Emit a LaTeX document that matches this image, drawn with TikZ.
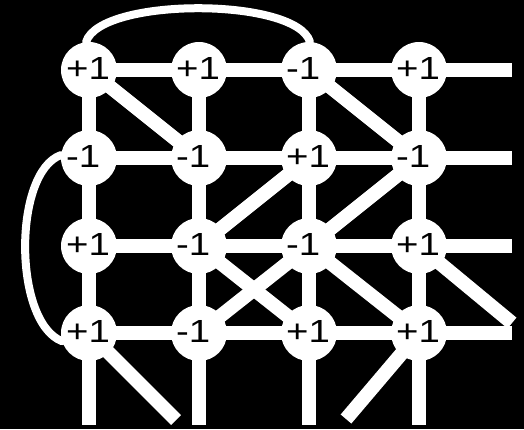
\documentclass[tikz,border=0pt]{standalone}
\usepackage{fontspec}
\setmainfont{Liberation Sans}[FakeStretch=1.2]
\pgfdeclarelayer{back}
\pgfdeclarelayer{edges}
\pgfsetlayers{back,edges,main}
\begin{document}
\begin{tikzpicture}[x=1pt,y=-1pt,
  vtx/.style={circle,fill=white,draw=none,minimum size=56pt,inner sep=0pt},
  lbl/.style={anchor=base west,inner sep=0pt,text=black,font=\fontsize{32}{32}\selectfont},
  edge/.style={draw=white,line width=14pt},
  arcedge/.style={draw=white,line width=8pt,line cap=round}]
\useasboundingbox (0,0) rectangle (524,429);
\begin{pgfonlayer}{back}
\fill[black] (0,0) rectangle (524,429);
\end{pgfonlayer}
% vertices
\foreach \r/\y in {1/70,2/158,3/246,4/333}{
  \foreach \c/\x in {1/89,2/199,3/309,4/419}{
    \node[vtx] (n\r\c) at (\x,\y) {};
  }
}
% labels
\foreach \r/\c/\t in {1/1/+1,1/2/+1,1/3/-1,1/4/+1,
                      2/1/-1,2/2/-1,2/3/+1,2/4/-1,
                      3/1/+1,3/2/-1,3/3/-1,3/4/+1,
                      4/1/+1,4/2/-1,4/3/+1,4/4/+1}{
  \node[lbl] (t\r\c) at ([shift={(-23,9.5)}]n\r\c.center) {\t};
}
% free ends
\foreach \r/\y in {1/70,2/158,3/246,4/333}{
  \coordinate (e\r) at (512,\y);
}
\foreach \c/\x in {1/89,2/199,3/309,4/419}{
  \coordinate (b\c) at (\x,425);
}
\coordinate (d34) at (512,323);
\coordinate (d41) at (176,420);
\coordinate (d44) at (346,419);
\begin{pgfonlayer}{edges}
% horizontal
\foreach \r in {1,2,3,4}{
  \draw[edge] (n\r1.center) -- (n\r2.center) -- (n\r3.center) -- (n\r4.center) -- (e\r);
}
% vertical
\foreach \c in {1,2,3,4}{
  \draw[edge] (n1\c.center) -- (n2\c.center) -- (n3\c.center) -- (n4\c.center) -- (b\c);
}
% diagonals
\draw[edge] (n11.center) -- (n22.center);
\draw[edge] (n13.center) -- (n24.center);
\draw[edge] (n23.center) -- (n32.center);
\draw[edge] (n24.center) -- (n33.center);
\draw[edge] (n32.center) -- (n43.center);
\draw[edge] (n33.center) -- (n42.center);
\draw[edge] (n33.center) -- (n44.center);
\draw[edge] (n34.center) -- (d34);
\draw[edge] (n41.center) -- (d41);
\draw[edge] (n44.center) -- (d44);
% arcs
\draw[arcedge] (n11.96) .. controls (100,-3) and (296,-3) .. (n13.88);
\draw[arcedge] (n21.174) .. controls (13,172) and (13,322) .. (n41.197);
\end{pgfonlayer}
\end{tikzpicture}
\end{document}
